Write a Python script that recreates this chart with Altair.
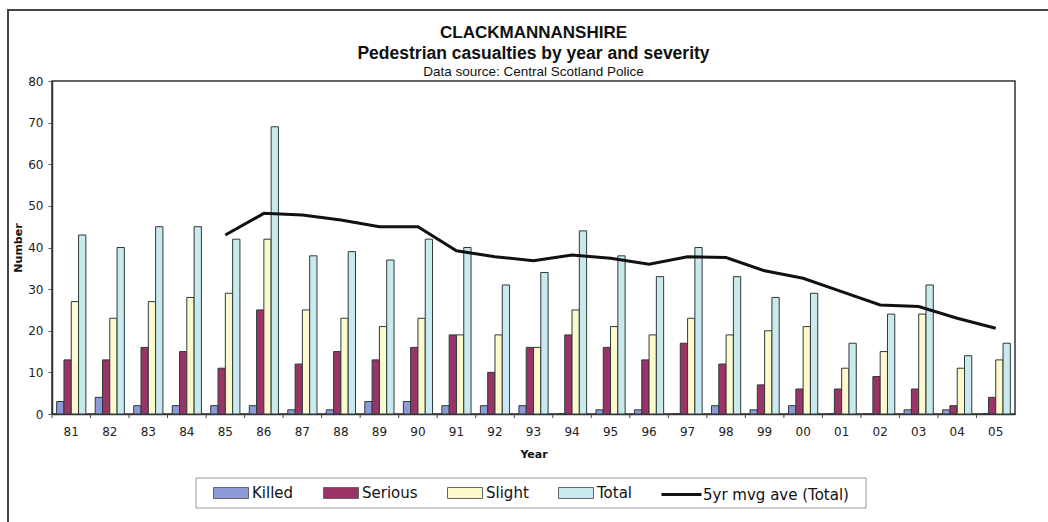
import altair as alt
import pandas as pd

# Pedestrian casualties, Clackmannanshire, 1981-2005
years = ["81", "82", "83", "84", "85", "86", "87", "88", "89", "90", "91", "92", "93",
         "94", "95", "96", "97", "98", "99", "00", "01", "02", "03", "04", "05"]
killed = [3, 4, 2, 2, 2, 2, 1, 1, 3, 3, 2, 2, 2, 0, 1, 1, 0, 2, 1, 2, 0, 0, 1, 1, 0]
serious = [13, 13, 16, 15, 11, 25, 12, 15, 13, 16, 19, 10, 16, 19, 16, 13, 17, 12, 7, 6, 6, 9, 6, 2, 4]
slight = [27, 23, 27, 28, 29, 42, 25, 23, 21, 23, 19, 19, 16, 25, 21, 19, 23, 19, 20, 21, 11, 15, 24, 11, 13]
total = [43, 40, 45, 45, 42, 69, 38, 39, 37, 42, 40, 31, 34, 44, 38, 33, 40, 33, 28, 29, 17, 24, 31, 14, 17]
# 5-year moving average of the total (from 1985 onwards)
mvg_years = ["85", "86", "87", "88", "89", "90", "91", "92", "93", "94", "95", "96", "97",
             "98", "99", "00", "01", "02", "03", "04", "05"]
mvg_ave = [43.0, 48.2, 47.8, 46.6, 45.0, 45.0, 39.2, 37.8, 36.8, 38.2, 37.4, 36.0, 37.8,
           37.6, 34.4, 32.6, 29.4, 26.2, 25.8, 23.0, 20.6]

series_order = ["Killed", "Serious", "Slight", "Total"]
series_colors = ["#8e9bd8", "#9b3466", "#fcfacc", "#c9e9ef"]
line_label = "5yr mvg ave (Total)"

title_lines = ["CLACKMANNANSHIRE", "Pedestrian casualties by year and severity"]
source_text = "Data source: Central Scotland Police"

TITLE_FONT = "Liberation Sans"
FONT = "DejaVu Sans"
W, H = 963, 333

bar_df = pd.DataFrame({
    "year": years * 4,
    "series": sum([[s] * len(years) for s in series_order], []),
    "value": killed + serious + slight + total,
})
line_df = pd.DataFrame({"year": mvg_years, "mvg": mvg_ave, "lab": line_label})
tick_df = pd.DataFrame({"year": years})
one_row = pd.DataFrame({"k": [0]})

x_scale = alt.Scale(domain=years, paddingInner=0, paddingOuter=0)
y_scale = alt.Scale(domain=[0, 80])

bars = alt.Chart(bar_df).mark_bar(stroke="#2c3a3a", strokeWidth=1).encode(
    x=alt.X("year:N", scale=x_scale,
            axis=alt.Axis(title="Year", ticks=False, labelAngle=0, labelPadding=12,
                          titlePadding=11, domainColor="#333", domainWidth=1.5)),
    xOffset=alt.XOffset("series:N",
                        scale=alt.Scale(domain=series_order, paddingOuter=0.64, paddingInner=0)),
    y=alt.Y("value:Q", scale=y_scale,
            axis=alt.Axis(title="Number", values=list(range(0, 90, 10)), grid=False,
                          tickSize=4, labelPadding=5, titlePadding=4,
                          domainColor="#333", domainWidth=1.5, tickColor="#555")),
    fill=alt.Fill("series:N",
                  scale=alt.Scale(domain=series_order, range=series_colors),
                  legend=alt.Legend(title=None, orient="none", direction="horizontal",
                                    legendX=161, legendY=394,
                                    symbolType="M-1,-0.314H1V0.314H-1Z", symbolSize=1225,
                                    symbolStrokeColor="#666", symbolStrokeWidth=1,
                                    labelFontSize=15, labelOffset=3, columnPadding=27,
                                    labelFont=FONT)),
)

mvg_line = alt.Chart(line_df).mark_line(strokeWidth=3).encode(
    x=alt.X("year:N", scale=x_scale),
    y=alt.Y("mvg:Q", scale=y_scale),
    stroke=alt.Stroke("lab:N", scale=alt.Scale(domain=[line_label], range=["#111111"]),
                      legend=alt.Legend(title=None, orient="none", legendX=608, legendY=392,
                                        symbolType="stroke", symbolSize=1600,
                                        symbolStrokeWidth=3, labelFontSize=15,
                                        labelOffset=0, labelFont=FONT)),
)

# category separator ticks on the x axis
sep_ticks = alt.Chart(tick_df).mark_rule(color="#444", strokeWidth=1).encode(
    x=alt.X("year:N", scale=x_scale, bandPosition=0),
    y=alt.value(H),
    y2=alt.value(H + 4),
)

legend_box = alt.Chart(one_row).mark_rect(fillOpacity=0, stroke="#999", strokeWidth=1).encode(
    x=alt.value(144), x2=alt.value(814), y=alt.value(397), y2=alt.value(427)
)

outer_box = alt.Chart(one_row).mark_rect(fillOpacity=0, stroke="#444", strokeWidth=2).encode(
    x=alt.value(-44), x2=alt.value(1100), y=alt.value(-71), y2=alt.value(600)
)

# chart titles
title_1 = alt.Chart(one_row).mark_text(
    font=TITLE_FONT, fontSize=17, fontWeight="bold", color="#111", baseline="middle"
).encode(x=alt.value(W / 2), y=alt.value(-48), text=alt.value(title_lines[0]))

title_2 = alt.Chart(one_row).mark_text(
    font=TITLE_FONT, fontSize=17.5, fontWeight="bold", color="#111", baseline="middle"
).encode(x=alt.value(W / 2), y=alt.value(-27), text=alt.value(title_lines[1]))

source = alt.Chart(one_row).mark_text(
    font=TITLE_FONT, fontSize=13.5, color="#111", baseline="middle"
).encode(x=alt.value(W / 2), y=alt.value(-9), text=alt.value(source_text))

chart = alt.layer(
    outer_box, bars, sep_ticks, mvg_line, legend_box, title_1, title_2, source
).properties(
    width=W,
    height=H,
    autosize=alt.AutoSizeParams(type="none"),
    padding={"left": 52, "top": 81, "right": 33, "bottom": 108},
).configure_view(
    stroke="#333", strokeWidth=1.5
).configure_axis(
    labelFont=FONT, labelFontSize=12, labelColor="#222",
    titleFont=FONT, titleFontSize=11, titleFontWeight="bold", titleColor="#111",
).configure_legend(
    labelColor="#111", padding=0
)

chart.save("out.html", embed_options={"renderer": "svg", "actions": False})
